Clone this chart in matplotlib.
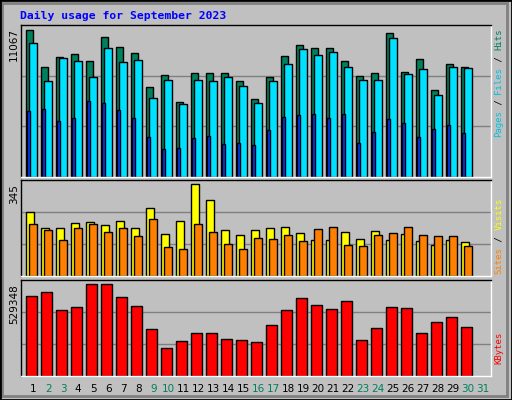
import matplotlib
matplotlib.use("Agg")
import matplotlib.pyplot as plt
from matplotlib.patches import Rectangle
import numpy as np

days = list(range(1, 32))
day_labels = [str(d) for d in days]
weekend_days = [2, 3, 9, 10, 16, 17, 23, 24, 30, 31]
hits = [11067, 8288, 9039, 9264, 8739, 10541, 9790, 9340, 6786, 7687, 5659, 7837, 7837, 7837, 7236,
        5884, 7537, 9114, 9941, 9715, 9715, 8739, 7612, 7837, 10842, 7912, 8889, 6560, 8513, 8288]
files = [10091, 7236, 8964, 8739, 7537, 9715, 8664, 8814, 5959, 7312, 5509, 7312, 7236, 7537, 6861,
         5584, 7236, 8513, 9640, 9190, 9415, 8288, 7312, 7312, 10466, 7762, 8138, 6185, 8288, 8213]
pages = [4983, 5133, 4232, 4457, 5734, 5584, 5058, 4457, 3030, 2128, 2204, 2955, 3105, 2504, 2579,
         2429, 3556, 4532, 4683, 4758, 4457, 4758, 2579, 3405, 4382, 4081, 3030, 3631, 3931, 3330]
visits = [240, 180, 180, 199, 203, 191, 206, 180, 255, 158, 206, 345, 285, 173, 154,
          173, 180, 184, 161, 135, 135, 165, 139, 169, 135, 158, 131, 116, 135, 128]
sites = [195, 173, 135, 180, 195, 165, 180, 150, 214, 109, 101, 195, 165, 120, 101,
         143, 139, 154, 131, 176, 184, 116, 113, 154, 161, 184, 154, 150, 150, 113]
kbytes = [459800, 483000, 378700, 396100, 529348, 529348, 454000, 401900, 268600, 158400,
          199000, 245400, 245400, 210600, 204800, 193200, 291700, 378700, 448200, 407700,
          384500, 430800, 204800, 274300, 396100, 390300, 245400, 309100, 338100, 280100]

BG = "#C0C0C0"
fig = plt.figure(figsize=(5.12, 4.0), dpi=100, facecolor=BG)
fig.patches.append(Rectangle((0, 0), 1, 1, transform=fig.transFigure, fill=False,
                             edgecolor="black", lw=2, zorder=10))
fig.patches.append(Rectangle((2/512, 4/400), 505/512, 393/400, transform=fig.transFigure, fill=False,
                             edgecolor="#808080", lw=2, zorder=9))
mono = "DejaVu Sans Mono"
fig.text(20/512, 1 - 16/400, "Daily usage for September 2023", color="#0000FF",
         family=mono, weight="bold", fontsize=8.2, va="center", ha="left")

L, W = 20.7/512, 470/512
ax1 = fig.add_axes([L, 1-177/400, W, 152/400])
ax2 = fig.add_axes([L, 1-276.3/400, W, 96.3/400])
ax3 = fig.add_axes([L, 1-375.7/400, W, 95.4/400])
n = len(hits)
x = np.arange(1, n+1)
lims = [11420, 361, 553000]
for ax, lim in zip([ax1, ax2, ax3], lims):
    ax.set_facecolor(BG)
    ax.set_xlim(0.667, 32.0)
    ax.set_ylim(0, lim)
    ax.set_xticks([]); ax.set_yticks([])
    for y in (lim/3, 2*lim/3):
        ax.axhline(y, color="#808080", lw=1, zorder=0)
    for s in ax.spines.values():
        s.set_color("black"); s.set_linewidth(1)
    ax.spines["bottom"].set_color("white"); ax.spines["right"].set_color("white")

kw = dict(align="edge", edgecolor="black", linewidth=1)
ax1.bar(x, hits, width=0.47, color="#00805C", **kw)
ax1.bar(x+0.24, files, width=0.49, color="#00E0FF", **kw)
ax1.bar(x+0.09, pages, width=0.17, color="#0040FF", **kw)
ax2.bar(x, visits, width=0.53, color="#FFFF00", **kw)
ax2.bar(x+0.24, sites, width=0.49, color="#FF8000", **kw)
ax3.bar(x+0.04, kbytes, width=0.69, color="#FF0000", **kw)

fs = 7.5
fig.text(14/512, 1-28/400, "11067", rotation=90, ha="center", va="top", fontsize=fs, family="DejaVu Sans")
fig.text(14/512, 1-184/400, "345", rotation=90, ha="center", va="top", fontsize=fs, family="DejaVu Sans")
fig.text(14/512, 1-284/400, "529348", rotation=90, ha="center", va="top", fontsize=fs, family="DejaVu Sans")

rfs = 6.5
step = rfs * 0.602 * 100 / 72 / 400
def right_label(parts, ytop):
    # parts listed top-to-bottom
    y = ytop
    for txt, col in parts:
        fig.text(499/512, y, txt, rotation=90, ha="center", va="top", color=col,
                 family=mono, fontsize=rfs)
        y -= len(txt) * step
right_label([("Hits", "#00805C"), (" / ", "#000000"), ("Files", "#00C0E0"), (" / ", "#000000"),
             ("Pages", "#00C0E0")], 1-29/400)
right_label([("Visits", "#FFFF00"), (" / ", "#000000"), ("Sites", "#FF8000")], 1-198/400)
right_label([("KBytes", "#FF0000")], 1-332/400)

for d, lab in zip(days, day_labels):
    col = "#00805C" if d in weekend_days else "black"
    fig.text((25.7 + (d-1)*15 + 7.5)/512, 1-389/400, lab, ha="center", va="center",
             color=col, fontsize=fs, family="DejaVu Sans")

fig.savefig("out.png", dpi=100, facecolor=BG)
